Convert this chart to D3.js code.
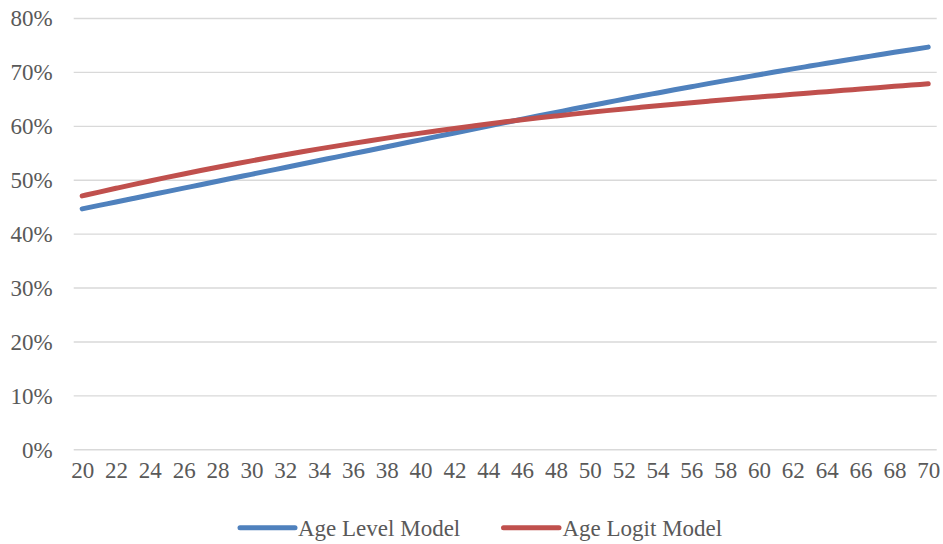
<!DOCTYPE html>
<html>
<head>
<meta charset="utf-8">
<script src="https://cdn.jsdelivr.net/npm/d3@7"></script>
<style>
  html, body { margin: 0; padding: 0; background: #fff; }
  svg { display: block; }
  svg text { font-family: "Liberation Serif", "Times New Roman", serif !important; fill: #595959; }
</style>
</head>
<body>
<svg id="chart" width="943" height="544"></svg>
<script>
// Ages on the category axis
const ages = d3.range(20, 71);
const ageTickLabels = d3.range(20, 71, 2);
const yTicks = [0, 0.1, 0.2, 0.3, 0.4, 0.5, 0.6, 0.7, 0.8];

// Predicted probability by age (percent)
const ageLevelModel = [
  44.60, 45.24, 45.88, 46.52, 47.16, 47.80, 48.44, 49.08, 49.72, 50.36,
  51.00, 51.64, 52.28, 52.92, 53.56, 54.20, 54.84, 55.48, 56.12, 56.76,
  57.40, 58.04, 58.68, 59.32, 59.96, 60.60, 61.24, 61.87, 62.49, 63.11,
  63.72, 64.32, 64.92, 65.52, 66.10, 66.68, 67.25, 67.82, 68.38, 68.93,
  69.48, 70.02, 70.56, 71.08, 71.60, 72.12, 72.63, 73.13, 73.63, 74.12,
  74.60
];
const ageLogitModel = [
  47.00, 47.71, 48.41, 49.10, 49.77, 50.43, 51.07, 51.70, 52.31, 52.91,
  53.50, 54.07, 54.63, 55.18, 55.72, 56.24, 56.75, 57.24, 57.72, 58.19,
  58.65, 59.09, 59.52, 59.94, 60.35, 60.74, 61.12, 61.48, 61.83, 62.17,
  62.50, 62.82, 63.13, 63.43, 63.72, 64.01, 64.29, 64.57, 64.84, 65.10,
  65.35, 65.60, 65.85, 66.10, 66.34, 66.59, 66.83, 67.08, 67.32, 67.56,
  67.80
];

const seriesNames = ["Age Level Model", "Age Logit Model"];
const seriesColors = ["#4F81BD", "#C0504D"];
const seriesValues = [ageLevelModel, ageLogitModel];

(function draw() {
  const svg = d3.select("#chart");
  const plotLeft = 73.7, plotRight = 936.7, plotTop = 18, plotBottom = 449.3;
  const serif = '"Liberation Serif", "Times New Roman", serif';

  const x = d3.scalePoint().domain(ages).range([plotLeft, plotRight]).padding(0.5);
  const y = d3.scaleLinear().domain([0, 0.8]).range([plotBottom, plotTop]);

  // Horizontal gridlines and percentage labels
  const yAxis = svg.append("g")
    .attr("transform", `translate(${plotLeft},0)`)
    .call(d3.axisLeft(y).tickValues(yTicks).tickFormat(d3.format(".0%"))
      .tickSize(-(plotRight - plotLeft)).tickPadding(21));
  yAxis.attr("font-family", serif).attr("font-size", 23);
  yAxis.select(".domain").remove();
  yAxis.selectAll(".tick line").attr("stroke", "#D9D9D9").attr("stroke-width", 1.4);
  yAxis.selectAll(".tick text")
    .style("font-family", serif).style("font-size", "23px")
    .attr("fill", "#595959").attr("dy", "0.34em");

  // Age labels along the bottom
  const xAxis = svg.append("g")
    .attr("transform", `translate(0,${plotBottom})`)
    .call(d3.axisBottom(x).tickValues(ageTickLabels).tickSize(0).tickPadding(11));
  xAxis.attr("font-family", serif).attr("font-size", 23);
  xAxis.select(".domain").remove();
  xAxis.selectAll(".tick text")
    .style("font-family", serif).style("font-size", "23px")
    .attr("fill", "#595959").attr("dy", "0.75em");

  // Model lines
  const line = d3.line()
    .x((d, i) => x(ages[i]))
    .y(d => y(d / 100))
    .curve(d3.curveMonotoneX);

  seriesValues.forEach((vals, k) => {
    svg.append("path")
      .datum(vals)
      .attr("d", line)
      .attr("fill", "none")
      .attr("stroke", seriesColors[k])
      .attr("stroke-width", 5)
      .attr("stroke-linecap", "round")
      .attr("stroke-linejoin", "round");
  });

  // Legend
  const legendY = 527.7;
  const legendItems = [
    { x0: 240, x1: 295, tx: 298 },
    { x0: 503.5, x1: 559, tx: 562.5 }
  ];
  legendItems.forEach((it, k) => {
    svg.append("line")
      .attr("x1", it.x0).attr("x2", it.x1)
      .attr("y1", legendY).attr("y2", legendY)
      .attr("stroke", seriesColors[k])
      .attr("stroke-width", 5)
      .attr("stroke-linecap", "round");
    svg.append("text")
      .attr("x", it.tx).attr("y", legendY)
      .attr("dy", "0.34em")
      .style("font-family", serif)
      .style("font-size", "23px")
      .text(seriesNames[k]);
  });
})();
</script>
</body>
</html>
